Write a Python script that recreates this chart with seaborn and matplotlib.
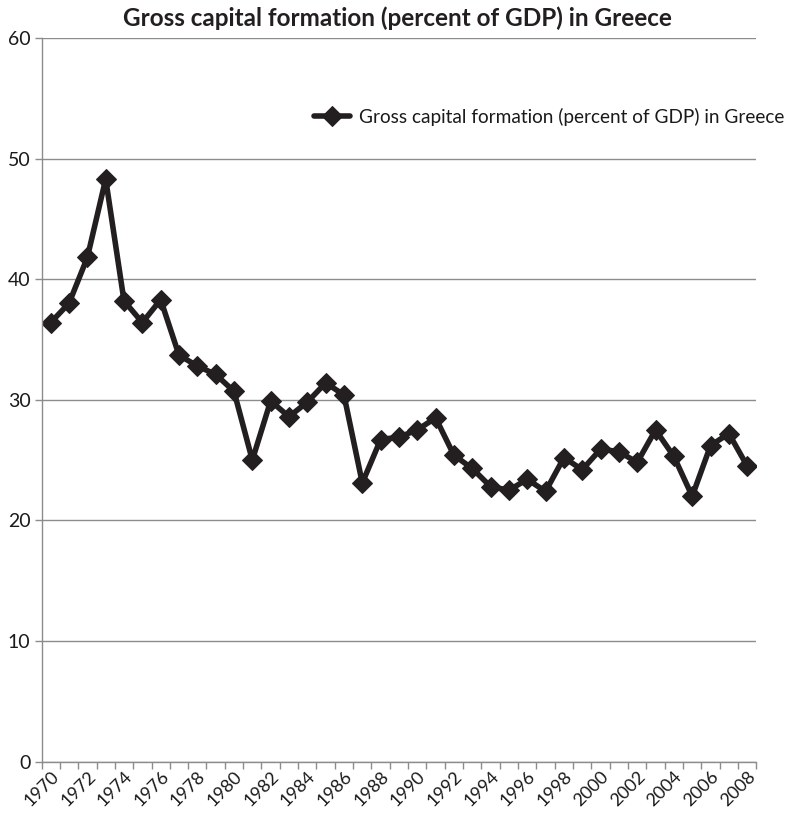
import matplotlib
matplotlib.use("Agg")
import matplotlib.pyplot as plt
from matplotlib.ticker import FixedLocator
import seaborn as sns
import pandas as pd

# Gross capital formation as a share of GDP, Greece 1970-2008
years = list(range(1970, 2009))
gcf_pct = [36.4, 38.0, 41.8, 48.3, 38.2, 36.4, 38.3, 33.7, 32.8, 32.1,
           30.7, 25.0, 29.9, 28.6, 29.8, 31.4, 30.4, 23.1, 26.7, 26.9,
           27.5, 28.5, 25.4, 24.3, 22.8, 22.5, 23.4, 22.4, 25.2, 24.2,
           25.9, 25.7, 24.8, 27.5, 25.3, 22.0, 26.2, 27.2, 24.5]
series_name = "Gross capital formation (percent of GDP) in Greece"
title_text = "Gross capital formation (percent of GDP) in Greece"
y_ticks = [0, 10, 20, 30, 40, 50, 60]
x_label_years = list(range(1970, 2009, 2))

df = pd.DataFrame({"year": years, "value": gcf_pct, "series": series_name})

sns.set_theme(style="white")
plt.rcParams["font.family"] = ["Lato", "DejaVu Sans"]

ink = "#231f20"
text_col = "#1a1a1a"
grid_gray = "#8c8c8c"

fig = plt.figure(figsize=(7.94, 8.15), dpi=100)
ax = fig.add_axes([0.0523, 0.0656, 0.9003, 0.8878])

sns.lineplot(data=df, x="year", y="value", hue="series", palette=[ink],
             marker="D", markersize=10.5, markeredgecolor=ink, linewidth=4.0,
             ax=ax, legend=True)

ax.set_xlim(1969.5, 2008.5)
ax.set_ylim(0, 60)
ax.set_yticks(y_ticks)
ax.set_yticklabels([str(v) for v in y_ticks], fontsize=14, color=text_col)
ax.yaxis.grid(True, color=grid_gray, linewidth=1.0)
ax.set_axisbelow(True)

# category boundaries carry the tick marks; labels sit on every other year
ax.xaxis.set_major_locator(FixedLocator(x_label_years))
ax.set_xticklabels([str(y) for y in x_label_years], rotation=45, ha="right",
                   rotation_mode="anchor", fontsize=13, color=text_col)
ax.xaxis.set_minor_locator(FixedLocator([1969.5 + k for k in range(40)]))
ax.tick_params(axis="x", which="major", length=0, pad=5)
ax.tick_params(axis="x", which="minor", length=5, width=1, color=grid_gray,
               direction="out", bottom=True)
ax.tick_params(axis="y", which="major", length=5, width=1, color=grid_gray,
               direction="out", left=True, pad=3)

for side in ["top", "right"]:
    ax.spines[side].set_visible(False)
for side in ["left", "bottom"]:
    ax.spines[side].set_color(grid_gray)
    ax.spines[side].set_linewidth(1.0)

ax.set_xlabel("")
ax.set_ylabel("")

fig.text(0.5, 0.978, title_text, ha="center", va="center",
         fontsize=17.5, fontweight="bold", color=ink)

handles, labels = ax.get_legend_handles_labels()
ax.legend(handles, labels, loc="center left", bbox_to_anchor=(0.384, 0.857),
          bbox_transform=fig.transFigure, frameon=False, fontsize=13.7,
          borderpad=0, handlelength=1.85, handletextpad=0.5,
          labelcolor=text_col)

fig.savefig("out.png", dpi=100, facecolor="white")
